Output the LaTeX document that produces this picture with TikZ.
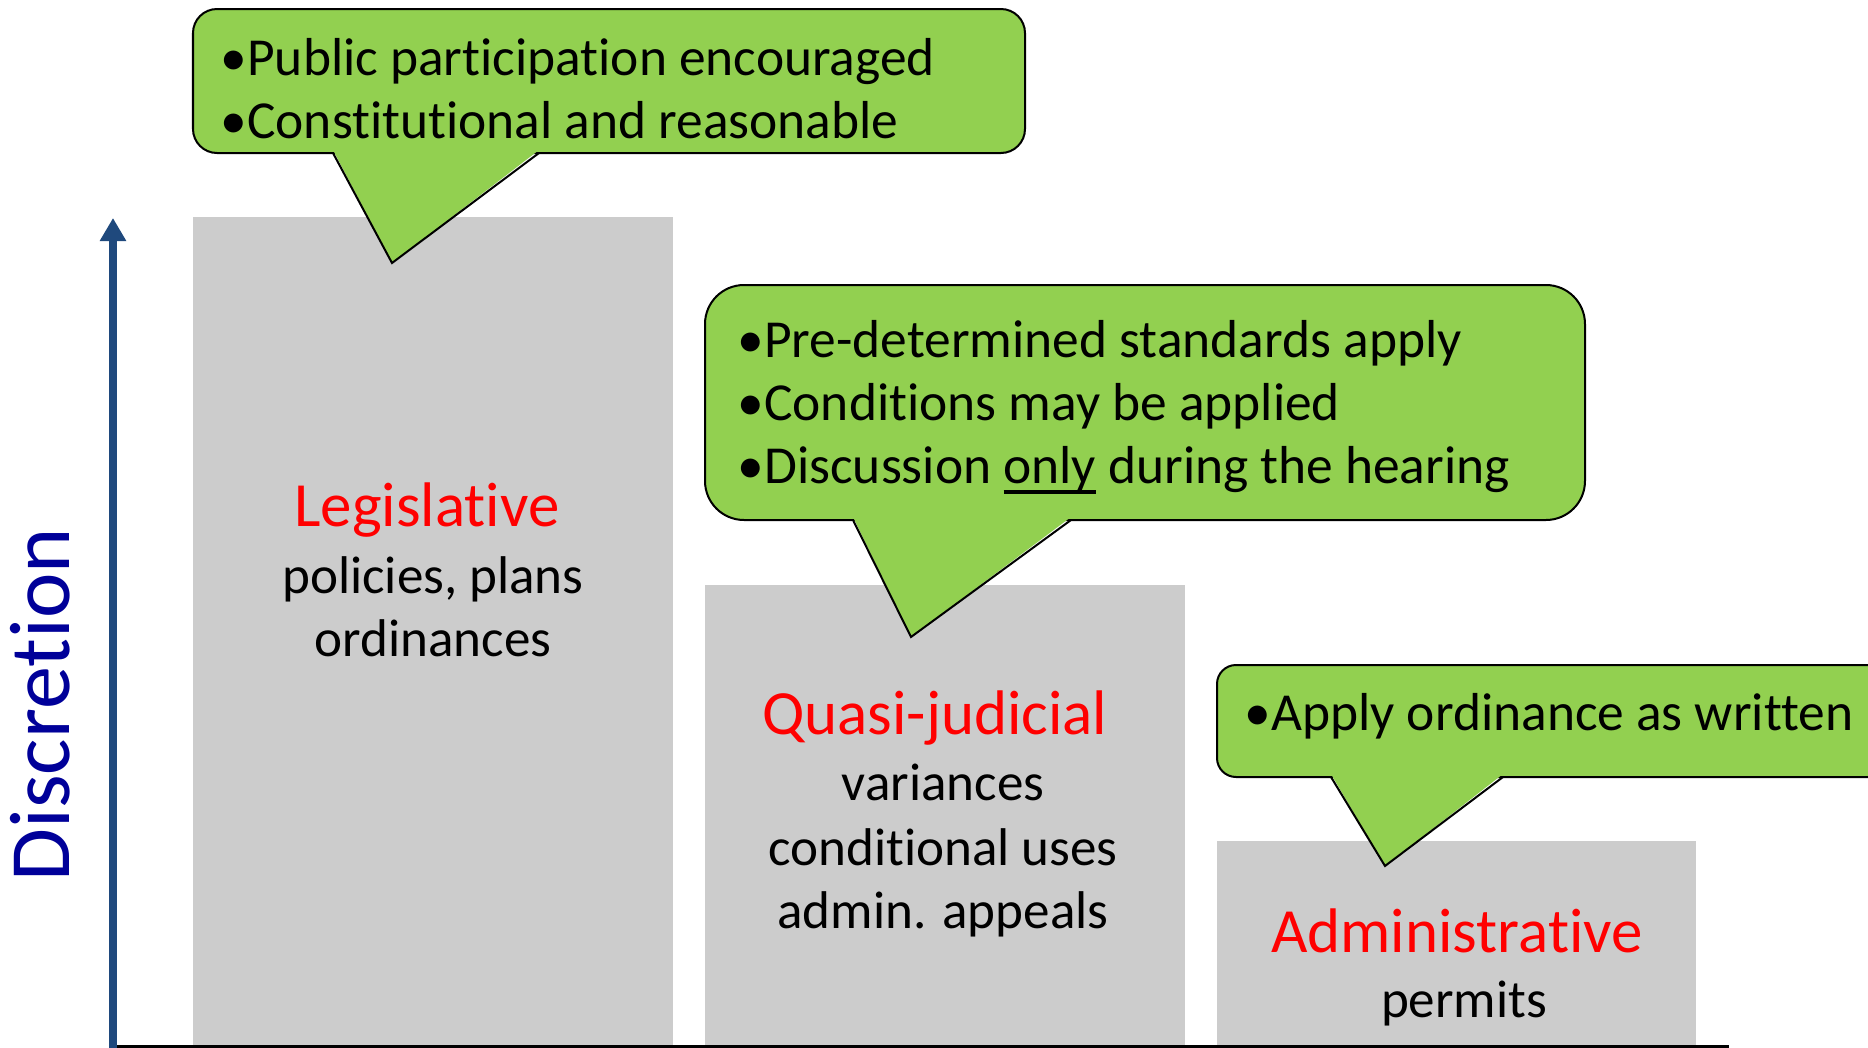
\documentclass[tikz,border=0pt]{standalone}
\usepackage{tikz}
\usetikzlibrary{arrows.meta}
\usepackage{fontspec}
\setmainfont{Carlito}[Ligatures={NoCommon},RawFeature={-liga;-clig}]
\definecolor{barGray}{HTML}{CCCCCC}
\definecolor{bubbleGreen}{HTML}{92D050}
\definecolor{axisBlue}{HTML}{1F497D}
\definecolor{axisText}{HTML}{000099}
\newcommand{\uword}[1]{\setbox0\hbox{#1}\rlap{\rule[-0.2em]{\wd0}{0.06em}}\box0\relax}
\newcommand{\pxfont}[1]{\fontsize{#1}{#1}\selectfont}

\begin{document}
\begin{tikzpicture}[
		x=0.01cm, y=-0.01cm,
		axis/.style={>={Triangle[width=0.25cm,length=0.23cm]},draw=axisBlue,line width=0.08cm},
		ground/.style={draw=black,line width=0.03cm},
		bar/.style={fill=barGray},
		bubble/.style={draw=black,fill=bubbleGreen,line width=0.02cm},
		point/.style={anchor=base west,inner sep=0pt,font=\pxfont{15.2}},
		kind/.style={anchor=base,inner sep=0pt,text=red,font=\pxfont{17.9}},
		uses/.style={anchor=base,inner sep=0pt,font=\pxfont{15.1}}
	]
		\useasboundingbox (0,0) rectangle (1868,1048);
		\clip (0,0) rectangle (1868,1048);
		% columns
		\fill[bar] (193,217) rectangle (673,1048);
		\fill[bar] (705,585) rectangle (1185,1048);
		\fill[bar] (1217,841) rectangle (1696,1048);
		% axes
		\coordinate (origin) at (113,1048);
		\coordinate (top) at (113,218);
		\coordinate (xend) at (1729,1046.5);
		\draw[ground] (origin |- xend) -- (xend);
		\draw[axis,->] (origin) -- (top);
		\node[rotate=90,anchor=base west,inner sep=0pt,text=axisText,
			font=\pxfont{24.47}] (discretion) at (70,882) {Discretion};
		% column labels
		\node[kind] (legis) at (427,526) {Legislative};
		\node[uses] (legisA) at (433,593) {policies, plans};
		\node[uses] (legisB) at (433,656) {ordinances};
		\node[kind] (quasi) at (935,734) {Quasi-judicial};
		\node[uses] (quasiA) at (943,800) {variances};
		\node[uses] (quasiB) at (943,865) {conditional uses};
		\node[uses] (quasiC) at (943,928) {admin. appeals};
		\node[kind] (admin) at (1457,952) {Administrative};
		\node[uses] (adminA) at (1464,1017) {permits};
		% callouts
		\draw[bubble,rounded corners=0.24cm] (193,9) rectangle (1025,153);
		\fill[bubbleGreen] (333,150) -- (392,263) -- (539,150) -- cycle;
		\draw[bubble,fill=none] (333,153) -- (392,263) -- (539,153);
		\node[point] (legisP) at (220,75) {•Public participation encouraged};
		\node[point] (legisQ) at (220,138) {•Constitutional and reasonable};

		\draw[bubble,rounded corners=0.39cm] (705,285) rectangle (1585,520);
		\fill[bubbleGreen] (853,517) -- (911,637) -- (1071,517) -- cycle;
		\draw[bubble,fill=none] (853,520) -- (911,637) -- (1071,520);
		\node[point] (quasiP) at (737,357) {•Pre-determined standards apply};
		\node[point] (quasiQ) at (737,420) {•Conditions may be applied};
		\node[point] (quasiR) at (737,483) {•Discussion \uword{only} during the hearing};

		\draw[bubble,rounded corners=0.19cm] (1217,665) rectangle (1900,777);
		\fill[bubbleGreen] (1331,774) -- (1385,866) -- (1503,774) -- cycle;
		\draw[bubble,fill=none] (1331,777) -- (1385,866) -- (1503,777);
		\node[point] (adminP) at (1244,730) {•Apply ordinance as written};
	\end{tikzpicture}
\end{document}
